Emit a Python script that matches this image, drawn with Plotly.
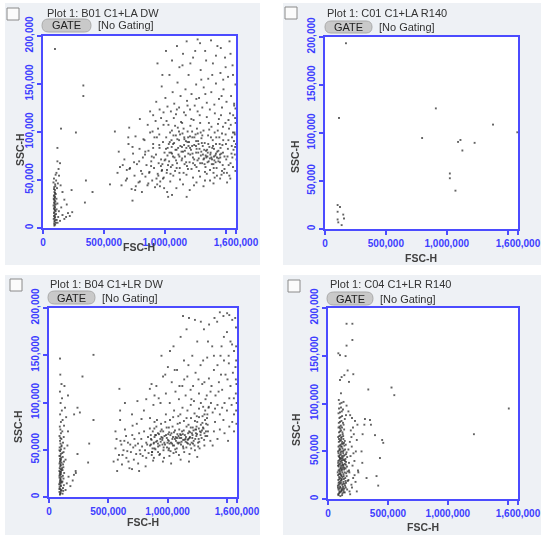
import plotly.graph_objects as go

# FSC-H / SSC-H values, in thousands
fsc_ticks = [0, 500, 1000, 1500, 1585]
fsc_ticktext = ["0", "500,000", "1,000,000", "", "1,600,000"]
ssc_ticks = [0, 50, 100, 150, 200]
ssc_ticktext = ["0", "50,000", "100,000", "150,000", "200,000"]

plot_titles = ["Plot 1: B01 C1+LA DW", "Plot 1: C01 C1+LA R140",
               "Plot 1: B04 C1+LR DW", "Plot 1: C04 C1+LR R140"]

# --- B01 C1+LA DW ---
b01_debris = [(92,5),(95,8),(88,10),(100,12),(97,14),(90,16),(104,18),(93,20),(99,22),(87,24),(95,26),
    (101,28),(91,30),(96,32),(89,34),(105,36),(94,38),(98,40),(92,43),(100,46),(86,48),(108,50),(95,7),
    (102,9),(90,13),(93,17),(98,19),(89,21),(96,23),(103,25),(91,27),(97,29),(88,31),(99,33),(94,35),
    (90,41),(107,15),(112,20),(118,26),(110,31),(125,12),(130,18),(140,8),(150,22),(160,14),(175,10),
    (190,12),(205,16),(220,13),(115,42),(122,47),(132,55),(128,62),(140,68),(118,70),(110,58),(145,45),
    (160,38),(175,30),(195,25),(240,17),(235,40),(100,4),(96,11),(93,3),(106,6),(113,9),(120,6),(98,37),
    (101,44),(90,52),(104,56)]
b01_outliers = [(98,187),(331,149),(331,138),(148,104),(270,100),(118,84),(590,101),(708,105),(795,114),
    (550,46),(344,27),(407,38),(352,50),(632,64),(735,29),(1028,33)]
b01_cells = [(612,58),(645,45),(668,72),(690,52),(702,88),(715,63),(728,41),(740,78),(752,55),(760,96),
    (771,67),(785,48),(793,83),(805,60),(812,38),(820,74),(833,92),(841,54),(850,66),(858,45),(866,81),
    (874,59),(880,100),(889,70),(897,50),(905,88),(912,63),(920,43),(928,77),(935,95),(942,57),(950,68),
    (957,84),(963,49),(970,72),(978,61),(985,90),(992,53),(998,79),(655,66),(680,50),(710,62),(735,85),
    (762,44),(790,70),(815,57),(840,80),(865,47),(888,65),(910,74),(932,52),(955,87),(975,60),(995,42),
    (700,95),(748,69),(795,49),(838,77),(872,58),(905,84),(938,46),(968,65),(622,80),(688,61),(757,40),
    (825,93),(893,75),(947,55),(980,67),(999,71),(860,108),(880,122),(900,101),(925,112),(945,104),
    (970,115),(990,108),(915,95),(955,98),
    (1005,72),(1012,95),(1018,61),(1024,84),(1030,108),(1036,70),(1041,90),(1047,57),(1053,79),(1058,102),
    (1063,66),(1069,88),(1074,115),(1080,74),(1085,60),(1091,97),(1096,82),(1101,68),(1107,105),(1112,77),
    (1118,92),(1123,63),(1128,86),(1134,111),(1139,71),(1145,99),(1150,80),(1155,58),(1161,93),(1166,75),
    (1172,118),(1177,84),(1182,65),(1188,101),(1193,78),(1199,90),(1204,69),(1210,107),(1215,82),(1220,62),
    (1226,95),(1231,74),(1237,113),(1242,87),(1247,66),(1253,98),(1258,79),(1264,104),(1269,71),(1274,91),
    (1280,60),(1285,83),(1291,110),(1296,76),(1301,94),(1307,68),(1312,86),(1318,102),(1323,73),(1328,89),
    (1334,64),(1339,81),(1345,116),(1350,75),(1356,97),(1361,70),(1366,85),(1372,61),(1377,79),(1383,106),
    (1388,72),(1394,92),(1399,67),(1404,83),(1410,100),(1415,76),(1421,88),(1426,63),(1431,80),(1437,109),
    (1442,73),(1448,95),(1453,69),(1458,84),(1464,78),(1470,99),(1476,66),
    (1010,83),(1027,66),(1044,100),(1060,78),(1077,89),(1093,71),(1110,84),(1126,98),(1143,73),(1159,87),
    (1176,69),(1192,95),(1209,77),(1225,86),(1242,72),(1258,91),(1275,79),(1291,68),(1308,97),(1324,82),
    (1341,74),(1357,88),(1374,77),(1390,84),(1407,71),(1423,95),(1440,81),(1456,74),(1473,87),(1015,112),
    (1050,64),(1085,107),(1120,58),(1155,104),(1190,62),(1225,101),(1260,64),(1295,100),(1330,59),(1365,103),
    (1400,58),(1435,102),(1470,60),(1033,88),(1068,75),(1103,93),(1138,80),(1173,91),(1208,84),(1243,95),
    (1278,88),(1313,77),(1348,82),(1383,74),(1418,69),(1453,77),(1318,72),(1352,69),(1386,67),(1420,78),
    (1336,76),(1370,73),(1404,75),(1440,70),(1300,80),(1262,83),(1228,78),(1195,86),(1160,95),(1120,75),
    (1088,82),(1055,92),(1022,76),
    (960,44),(985,52),(1020,38),(1045,49),(1070,55),(1095,42),(1125,51),(1150,46),(1178,56),(1205,40),
    (1232,53),(1260,48),(1290,54),(1318,44),(1345,57),(1372,50),(1400,47),(1428,55),(1455,52),(1485,58),
    (1060,35),(1180,33),(1240,45),(1330,50),(1410,53),
    (905,118),(930,132),(958,124),(975,148),(990,121),(1005,136),(1022,127),(1038,160),(1050,122),(1065,142),
    (1078,130),(1092,119),(1105,152),(1118,126),(1130,138),(1145,170),(1158,121),(1170,145),(1183,133),
    (1196,160),(1208,124),(1220,140),(1233,178),(1246,128),(1258,150),(1270,122),(1282,136),(1295,165),
    (1308,126),(1320,147),(1332,185),(1345,131),(1357,156),(1370,124),(1382,142),(1395,172),(1407,129),
    (1420,151),(1432,190),(1445,135),(1457,162),(1470,126),(1482,145),(1495,178),(1507,132),(1520,158),
    (1532,195),(1545,138),(1557,170),(1570,128),(1580,150),(1180,195),(1290,193),(1380,196),(1460,188),
    (1540,182),(1250,185),(1340,175),(1420,180),(1500,168),(1560,160),(1120,168),(1210,172),(1300,155),
    (1390,160),(1480,155),(1060,175),(940,172),(980,160),(1010,185),(1100,190),(1150,182),(1270,197),
    (1490,62),(1502,88),(1515,75),(1528,104),(1540,68),(1552,95),(1565,82),(1578,115),(1590,72),(1498,110),
    (1510,58),(1522,92),(1535,120),(1548,78),(1560,64),(1572,100),(1585,88),(1580,125),(1505,72),(1518,83),
    (1530,55),(1542,108),(1555,74),(1568,91),(1580,60),(1575,98),(1500,98),(1525,66),(1550,86),(1575,77),
    (1582,110),(1462,118),(1478,106),(1466,56),(1512,48),(1538,52),(1562,118),(1570,130),(1578,85),(1480,92),
    (1016,58),(1039,79),(1071,97),(1098,63),(1117,101),(1141,85),(1163,67),(1186,90),(1207,96),(1233,68),
    (1256,86),(1279,73),(1304,89),(1327,67),(1353,79),(1379,95),(1402,63),(1429,74),(1451,88),(1478,79),
    (1143,110),(1218,114),(1287,118),(1362,110),(1444,114),(1099,124),(1187,128),(1259,135),(1333,140),
    (1411,120),(1467,138),(1523,113),(1560,100),(1490,75),(1396,86),(1271,99),(1165,81),(1057,85)]

# --- C01 C1+LA R140 ---
c01_events = [(172,194),(115,116),(910,126),(798,95),(1380,109),(1579,101),(1093,91),(1112,93),(1229,90),
    (1128,82),(1025,58),(1025,53),(1071,40),(104,25),(123,23),(104,18),(150,15),(156,11),(104,10),(109,7),
    (137,4)]

# --- B04 C1+LR DW ---
b04_debris = [(92,3),(98,5),(88,6),(104,8),(95,9),(90,11),(101,12),(86,14),(97,15),(108,16),(93,18),(99,19),
    (89,21),(105,22),(95,24),(91,25),(102,27),(87,28),(98,30),(110,31),(94,33),(100,34),(89,36),(106,37),
    (96,39),(92,41),(103,42),(88,44),(99,46),(112,47),(94,49),(101,51),(90,53),(107,55),(97,57),(93,60),
    (104,62),(89,65),(100,68),(96,72),(115,4),(120,7),(118,10),(125,13),(113,17),(122,20),(117,23),(128,26),
    (114,29),(121,32),(119,35),(126,38),(116,43),(123,48),(130,52),(118,58),(124,64),(112,70),(127,76),
    (115,82),(94,4),(100,7),(87,9),(97,13),(91,16),(103,17),(96,20),(88,23),(100,25),(93,27),(105,29),(90,31),
    (98,35),(92,38),(101,40),(95,44),(88,50),(104,54),(96,63),(91,75),(100,80),(94,88),(108,92),(98,100),
    (92,112),(105,120),(95,130),(110,105),(140,8),(150,15),(165,22),(180,12),(200,18),(210,24),(225,28),
    (140,40),(155,55),(160,70),(145,85),(135,95)]
b04_outliers = [(93,147),(375,151),(282,128),(240,95),(212,88),(375,82),(593,115),(339,57),(330,37),
    (226,26),(240,46),(160,108),(130,118),(260,90)]
b04_cells = [(545,38),(560,52),(575,28),(590,45),(602,60),(615,35),(628,50),(640,72),(652,42),(665,58),
    (678,31),(690,48),(702,66),(715,40),(728,55),(740,78),(752,36),(765,50),(778,62),(790,44),(802,70),
    (815,33),(828,56),(840,47),(852,84),(865,61),(878,39),(890,52),(600,82),(650,65),(700,88),(750,57),
    (800,92),(850,73),(570,62),(620,45),(670,38),(720,62),(770,46),(820,58),(870,48),(895,66),(560,70),
    (610,56),(660,49),(710,53),(760,68),(810,50),(860,56),(890,80),(580,40),(635,60),(685,56),(735,46),
    (785,54),(835,64),(885,58),(700,30),(760,28),(820,42),(705,76),(780,83),(745,102),(820,104),(850,115),
    (880,98),(640,100),(600,92),(865,120),(890,108),
    (852,55),(860,62),(868,48),(875,70),(882,57),(890,64),(897,51),(905,75),(912,60),(920,54),(927,67),
    (935,46),(942,59),(950,72),(957,63),(965,50),(972,58),(980,80),(987,66),(995,53),(1002,61),(1010,74),
    (1017,57),(1025,49),(1032,68),(1040,62),(1047,85),(1055,55),(1062,71),(1070,60),(1077,52),(1085,78),
    (1092,65),(1100,58),(1107,88),(1115,63),(1122,70),(1130,54),(1137,81),(1145,66),(1152,59),(1160,75),
    (1167,92),(1175,62),(1182,70),(1190,56),(1197,84),(1205,68),(1212,74),(1220,60),(1227,89),(1235,72),
    (1242,65),(1250,80),(1257,58),(1265,94),(1272,70),(1280,77),(1287,63),(1295,86),(1302,73),(1310,68),
    (1317,92),(1325,78),(1332,84),(1340,70),(1347,96),(858,66),(873,52),(888,73),(903,59),(918,68),(933,55),
    (948,64),(963,70),(978,56),(993,63),(1008,50),(1023,66),(1038,57),(1053,69),(1068,64),(1083,58),
    (1098,72),(1113,56),(1128,67),(1143,61),(1158,53),(1173,68),(1188,64),(1203,58),(1218,71),(1233,62),
    (1248,67),(1263,73),(1278,66),(1293,79),(1308,61),(1323,70),(1338,77),(866,45),(884,42),(902,66),
    (920,48),(938,62),(956,56),(974,65),(992,74),(1010,60),(1028,58),(1046,64),(1064,51),(1082,67),
    (1100,63),(1118,59),(1136,71),(1154,64),(1172,57),(1190,69),(1208,63),(1226,55),(1244,75),(1262,62),
    (1280,69),(1298,74),(1316,82),(1334,65),(910,82),(945,78),(985,88),(1020,82),(1055,92),(1090,86),
    (1125,95),(1160,84),(1195,98),(1230,81),(1265,85),(1300,96),(1335,88),(930,45),(970,42),(1015,44),
    (1050,47),(1095,45),(1140,48),(1185,46),(1230,50),(1270,52),(1310,55),(960,38),(1030,36),(1110,40),
    (1180,38),(1250,43),(1090,57),(1150,62),(1210,66),(1112,66),(1170,61),(1062,62),(1005,67),(955,61),
    (1240,72),(1195,74),(918,57),(941,70),(967,53),(999,58),(1013,69),(1044,55),(1079,63),(1106,67),
    (1131,61),(1163,58),(1185,63),(1214,57),(1238,68),(1267,59),(1289,71),(1319,65),(1011,52),(1072,48),
    (1133,52),(1199,52),(1258,54),(1042,75),(1103,79),(1176,77),(1246,86),(1311,88),
    (905,118),(925,105),(948,150),(962,128),(985,110),(1002,138),(1018,100),(1035,122),(1050,160),(1066,112),
    (1080,135),(1095,104),(1110,170),(1124,118),(1138,145),(1152,108),(1166,128),(1180,190),(1194,114),
    (1208,150),(1222,102),(1236,132),(1250,165),(1264,110),(1278,140),(1292,120),(1306,178),(1320,104),
    (1334,148),(1348,126),(1362,112),(1376,160),(1390,135),(1404,108),(1418,186),(1432,122),(1446,150),
    (1460,114),(1474,170),(1488,130),(1502,195),(1516,142),(1530,118),(1544,162),(1558,105),(1572,138),
    (1576,180),(1580,120),(1130,192),(1160,178),(1230,188),(1280,186),(1350,183),(1395,190),(1440,196),
    (1470,192),(1520,193),(1545,188),(1570,190),(1500,175),(1530,165),(1560,155),(1578,145),(1575,110),
    (1582,100),(1578,92),(1560,88),(1540,98),(1520,105),(1500,92),(1480,100),(1460,95),(1440,88),(1420,98),
    (1400,94),(1380,90),(1365,100),(1450,130),(1475,145),(1505,125),(1550,132),(1575,125),(1420,140),
    (1390,150),(1340,165),(1300,145),(1260,125),(1215,118),(1175,140),(1140,125),(1100,118),(1060,135),
    (1020,155),(980,130),(940,100),(1200,104),(1280,100),(1330,108),(1310,122),(1455,160),(1515,150),
    (1578,160),(1370,118),(1430,112),(1345,95),(1400,80),(1440,72),(1480,68),(1520,75),(1560,70),(1580,78),
    (1420,62),(1470,82),(1510,60),(1545,80),(1390,70),(1360,60),(1380,55)]

# --- C04 C1+LR R140 ---
c04_stripe = [(85,5),(92,6),(100,7),(110,8),(120,6),(130,9),(140,7),(88,10),(97,11),(105,12),(115,10),
    (125,13),(135,11),(148,12),(160,10),(82,14),(90,15),(99,16),(108,17),(118,15),(128,18),(138,16),(150,17),
    (165,19),(86,20),(94,21),(103,22),(112,20),(122,23),(132,21),(144,22),(156,24),(170,20),(84,25),(92,26),
    (101,27),(110,25),(119,28),(129,26),(139,28),(152,27),(163,29),(88,30),(96,31),(105,32),(114,30),
    (124,33),(134,31),(146,32),(158,34),(175,30),(83,35),(91,36),(100,37),(109,35),(118,38),(128,36),
    (140,37),(151,39),(86,40),(95,41),(104,42),(113,40),(123,43),(133,41),(145,42),(160,44),(89,45),(98,46),
    (107,47),(117,45),(127,48),(137,46),(150,47),(84,50),(93,51),(102,52),(111,50),(121,53),(131,51),
    (143,52),(87,55),(96,56),(105,57),(115,55),(125,58),(136,56),(148,57),(90,60),(99,61),(108,62),(118,60),
    (128,63),(140,61),(85,65),(94,66),(103,67),(113,65),(123,68),(92,70),(101,71),(110,72),(120,70),
    (135,73),(88,75),(97,76),(107,77),(117,75),(130,78),(90,80),(100,81),(112,82),(125,80),(95,85),(105,86),
    (118,87),(140,84),(88,90),(100,91),(115,92),(92,95),(108,96),(125,94),(98,100),(112,101),(90,104),
    (130,102),(155,98),(170,92),(185,88),(200,85),(150,88),(87,4),(103,3),(118,4),(95,8),(113,9),(131,7),
    (83,12),(101,13),(122,11),(142,14),(89,17),(107,19),(127,16),(147,19),(93,23),(111,24),(131,24),(81,28),
    (99,29),(117,31),(137,33),(90,34),(108,33),(126,35),(148,36),(85,38),(103,39),(121,41),(141,40),(94,44),
    (112,43),(130,45),(155,49),(88,48),(106,49),(124,50),(97,53),(115,58),(133,59),(92,63),(110,64),
    (127,66),(102,74),(95,18),(115,21),(104,26),(120,36),(99,43),(110,55),(180,8),(195,15),(210,22),(178,28),
    (205,35),(220,40),(188,45),(232,50),(198,55),(240,62),(215,68),(190,72),(245,78),(225,82),(182,60),
    (200,12),(230,18),(250,30),(175,38),(212,48),(185,5),(240,8),(170,52),(195,65),(222,25),(208,75)]
c04_outliers = [(155,184),(203,184),(203,167),(155,161),(86,153),(100,151),(147,150),(164,135),(114,128),
    (136,130),(100,125),(211,131),(175,123),(108,111),(336,115),(530,117),(553,109),(308,84),(350,83),
    (303,78),(358,78),(392,67),(461,59),(452,62),(289,68),(433,43),(286,38),(322,22),(405,24),(419,14),
    (253,28),(280,50),(1217,68),(1508,95)]

panel_events = [b01_debris + b01_outliers + b01_cells, c01_events,
                b04_debris + b04_outliers + b04_cells, c04_stripe + c04_outliers]

W, H = 550, 542
BLUE = "#4b4bff"
LABEL_BLUE = "#3d3dff"
FONT = "Liberation Sans"

def px(x):
    return x / W

def py(y):
    return 1 - y / H

# pixel boxes: plot area (l, t, r, b) and the grey card behind each plot
plot_boxes = [(43, 36, 236, 228), (325, 37, 518, 229), (49, 308, 237, 497), (328, 308, 518, 499)]
card_boxes = [(5, 3, 260, 265), (283, 3, 541, 265), (5, 275, 260, 535), (283, 275, 541, 535)]
check_boxes = [(7, 8, 19, 20), (285, 7, 297, 19), (10, 279, 22, 291), (288, 280, 300, 292)]
gate_boxes = [(42, 19, 91, 32), (325, 21, 372, 33), (48, 291, 95, 304), (327, 292, 373, 305)]
title_pos = [(45, 13), (325, 13), (48, 284), (328, 284)]
ytitle_pos = [(20, 150), (295, 157), (18, 427), (296, 430)]
xtitle_pos = [(139, 247), (421, 258), (143, 522), (423, 527)]

fig = go.Figure()
shapes = []
annotations = []

for i, events in enumerate(panel_events):
    n = i + 1
    xa = "x" if n == 1 else f"x{n}"
    ya = "y" if n == 1 else f"y{n}"
    fig.add_trace(go.Scattergl(
        x=[e[0] for e in events], y=[e[1] for e in events],
        mode="markers", xaxis=xa, yaxis=ya, showlegend=False,
        marker=dict(size=2, symbol="square", color="rgba(45,45,45,0.75)", line=dict(width=0)),
        hoverinfo="skip"))

    l, t, r, b = plot_boxes[i]
    fig.update_layout(**{
        ("xaxis" if n == 1 else f"xaxis{n}"): dict(
            domain=[px(l), px(r)], range=[0, 1585], anchor=ya, automargin=False,
            tickvals=fsc_ticks, ticktext=fsc_ticktext, ticks="outside", ticklen=4,
            tickcolor=BLUE, tickwidth=1.5, showline=True, linecolor=BLUE, linewidth=2,
            mirror=True, showgrid=False, zeroline=False, fixedrange=True,
            tickfont=dict(family=FONT, size=10, color=LABEL_BLUE, weight="bold")),
        ("yaxis" if n == 1 else f"yaxis{n}"): dict(
            domain=[py(b), py(t)], range=[0, 200], anchor=xa, automargin=False,
            tickvals=ssc_ticks, ticktext=ssc_ticktext, ticks="outside", ticklen=4,
            tickcolor=BLUE, tickwidth=1.5, showline=True, linecolor=BLUE, linewidth=2,
            mirror=True, showgrid=False, zeroline=False, tickangle=-90, fixedrange=True,
            tickfont=dict(family=FONT, size=10, color=LABEL_BLUE, weight="bold")),
    })

    # grey card, then white plotting area
    cl, ct, cr, cb = card_boxes[i]
    shapes.append(dict(type="rect", xref="paper", yref="paper", layer="below",
                       x0=px(cl), x1=px(cr), y0=py(cb), y1=py(ct),
                       fillcolor="#eef1f5", line=dict(width=0)))
    shapes.append(dict(type="rect", xref="paper", yref="paper", layer="below",
                       x0=px(l), x1=px(r), y0=py(b), y1=py(t),
                       fillcolor="white", line=dict(width=0)))

    # little checkbox in the corner
    kl, kt, kr, kb = check_boxes[i]
    shapes.append(dict(type="rect", xref="paper", yref="paper",
                       x0=px(kl), x1=px(kr), y0=py(kb), y1=py(kt),
                       fillcolor="#fbfbfb", line=dict(color="#8a8a8a", width=1)))

    # GATE pill
    gl, gt, gr, gb = gate_boxes[i]
    rad = (gb - gt) / 2
    gm = (gt + gb) / 2
    path = (f"M {px(gl + rad)},{py(gt)} L {px(gr - rad)},{py(gt)} "
            f"Q {px(gr)},{py(gt)} {px(gr)},{py(gm)} Q {px(gr)},{py(gb)} {px(gr - rad)},{py(gb)} "
            f"L {px(gl + rad)},{py(gb)} Q {px(gl)},{py(gb)} {px(gl)},{py(gm)} "
            f"Q {px(gl)},{py(gt)} {px(gl + rad)},{py(gt)} Z")
    shapes.append(dict(type="path", xref="paper", yref="paper", path=path,
                       fillcolor="#c9c9c9", line=dict(color="#a9a9a9", width=1)))
    annotations.append(dict(x=px((gl + gr) / 2), y=py(gm), xref="paper", yref="paper",
                            text="GATE", showarrow=False, xanchor="center", yanchor="middle",
                            font=dict(family=FONT, size=11, color="#222222")))
    annotations.append(dict(x=px(gr + 5), y=py(gm), xref="paper", yref="paper",
                            text="[No Gating]", showarrow=False, xanchor="left", yanchor="middle",
                            font=dict(family=FONT, size=11, color="#333333")))

    tx, ty = title_pos[i]
    annotations.append(dict(x=px(tx), y=py(ty), xref="paper", yref="paper",
                            text=plot_titles[i], showarrow=False, xanchor="left", yanchor="middle",
                            font=dict(family=FONT, size=11, color="#333333")))

    yx, yy = ytitle_pos[i]
    annotations.append(dict(x=px(yx), y=py(yy), xref="paper", yref="paper", text="SSC-H",
                            textangle=-90, showarrow=False, xanchor="center", yanchor="middle",
                            font=dict(family=FONT, size=10.5, color="#404040", weight="bold")))
    xx, xy = xtitle_pos[i]
    annotations.append(dict(x=px(xx), y=py(xy), xref="paper", yref="paper", text="FSC-H",
                            showarrow=False, xanchor="center", yanchor="middle",
                            font=dict(family=FONT, size=10.5, color="#404040", weight="bold")))

fig.update_layout(
    width=W, height=H,
    margin=dict(l=0, r=0, t=0, b=0, autoexpand=False),
    paper_bgcolor="white", plot_bgcolor="rgba(0,0,0,0)",
    shapes=shapes, annotations=annotations,
)

# the page body has a default 8px margin; drop it so the figure sits at the window corner
fig.write_html("out.html", config={"displayModeBar": False},
               post_script="document.body.style.margin='0';document.body.style.overflow='hidden';")
